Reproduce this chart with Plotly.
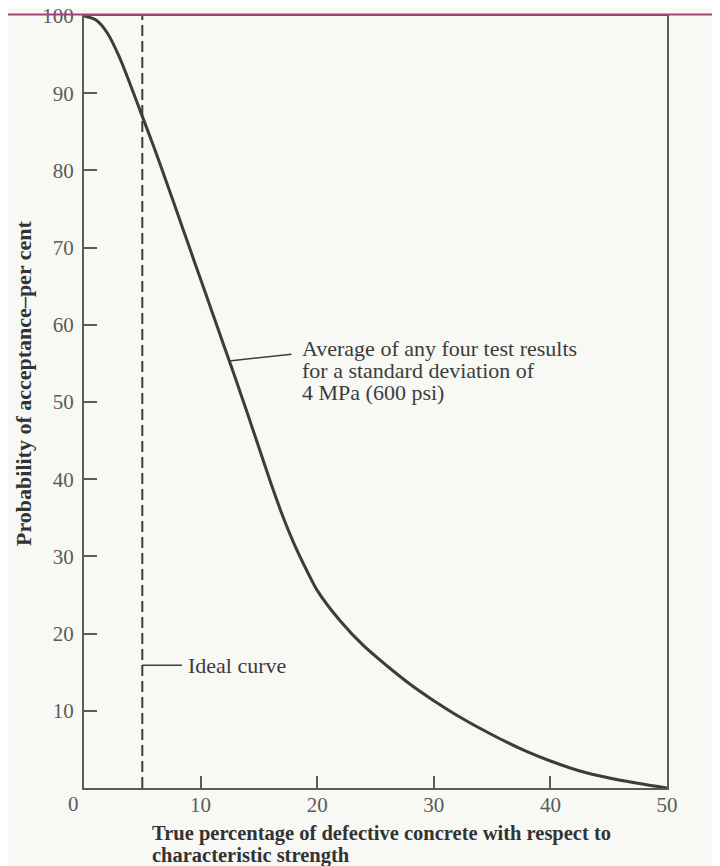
import plotly.graph_objects as go

# Data
defective_pct = [0, 1, 2, 3, 4, 5, 6, 7, 8, 9, 10, 11, 12, 13, 14, 15, 16, 17, 18, 19, 20,
                 22, 24, 26, 28, 30, 32, 35, 38, 40, 43, 46, 50]
acceptance_prob = [100, 99.5, 97.8, 94.8, 91.0, 87.0, 83.0, 78.8, 74.5, 70.2, 65.9, 61.6, 57.3,
                   53.0, 48.6, 44.1, 39.6, 35.4, 31.7, 28.5, 25.6, 21.6, 18.4, 15.8, 13.4, 11.3,
                   9.4, 6.9, 4.7, 3.5, 2.0, 1.0, 0]
ideal_x = [5, 5]
ideal_y = [0, 100]
x_ticks = [10, 20, 30, 40, 50]
y_ticks = [10, 20, 30, 40, 50, 60, 70, 80, 90, 100]
curve_label = ["Average of any four test results", "for a standard deviation of", "4 MPa (600 psi)"]
x_title = ["True percentage of defective concrete with respect to", "characteristic strength"]

SERIF = "Liberation Serif, Times New Roman, serif"
INK = "#3c3c3c"
AXIS = "#5a5a5a"
BG = "#f8f8f5"

# page body has an 8px margin: figure origin sits at (8, 8) in the window
L, T, R, B = 76, 8, 53, 78
PW = 712 - L - R   # plot width in px
PH = 858 - T - B   # plot height in px

fig = go.Figure()
fig.add_trace(go.Scatter(x=ideal_x, y=ideal_y, mode="lines",
                         line=dict(color=INK, width=2, dash="11px,5px"),
                         hoverinfo="skip", showlegend=False))
fig.add_trace(go.Scatter(x=defective_pct, y=acceptance_prob, mode="lines",
                         line=dict(color=INK, width=3, shape="spline", smoothing=0.8),
                         showlegend=False))

# annotation leader lines
fig.add_shape(type="line", x0=12.45, y0=55.3, x1=17.8, y1=56.2, xref="x", yref="y",
              line=dict(color=INK, width=1.5))
fig.add_shape(type="line", x0=5, y0=15.9, x1=8.4, y1=15.9, xref="x", yref="y",
              line=dict(color=INK, width=1.5))
# page rule across the top
fig.add_shape(type="line", x0=-L / PW, x1=(712 - L) / PW, y0=1.002, y1=1.002,
              xref="paper", yref="paper", line=dict(color="#a8407a", width=2))

for i, line in enumerate(curve_label):
    fig.add_annotation(x=18.5, y=56.9, xref="x", yref="y", xanchor="left", yanchor="middle",
                       yshift=-22 * i, text=line, showarrow=False, align="left",
                       font=dict(family=SERIF, size=22, color=INK))
fig.add_annotation(x=8.75, y=15.9, xref="x", yref="y", xanchor="left", yanchor="middle",
                   text="Ideal curve", showarrow=False,
                   font=dict(family=SERIF, size=22, color=INK))
fig.add_annotation(x=0, y=0, xref="x", yref="paper", xanchor="right", yanchor="top",
                   xshift=-3, yshift=-2, text="0", showarrow=False,
                   font=dict(family=SERIF, size=21, color=AXIS))
for i, line in enumerate(x_title):
    fig.add_annotation(x=(150 - 84) / PW, y=0, xref="paper", yref="paper",
                       xanchor="left", yanchor="middle", yshift=-45 - 22 * i, align="left",
                       text="<b>" + line + "</b>", showarrow=False,
                       font=dict(family=SERIF, size=20.5, color="#333333"))
fig.add_annotation(x=(23 - 84) / PW, y=(788 - 383) / PH, xref="paper", yref="paper",
                   xanchor="center", yanchor="middle", textangle=-90,
                   text="<b>Probability of acceptance\u2013per cent</b>",
                   showarrow=False, font=dict(family=SERIF, size=22, color="#333333"))

fig.update_xaxes(range=[0, 50], tickvals=x_ticks, ticktext=[str(v) for v in x_ticks],
                 ticks="inside", ticklen=12, tickwidth=1.5, tickcolor=AXIS,
                 showline=True, linecolor=AXIS, linewidth=2, mirror=True,
                 showgrid=False, zeroline=False, automargin=False,
                 ticklabeloverflow="allow", ticklabelstandoff=-3,
                 tickfont=dict(family=SERIF, size=21, color=AXIS))
fig.update_yaxes(range=[0, 100], tickvals=y_ticks, ticktext=[str(v) for v in y_ticks],
                 ticks="inside", ticklen=13, tickwidth=1.5, tickcolor=AXIS,
                 showline=True, linecolor=AXIS, linewidth=2, mirror=True,
                 showgrid=False, zeroline=False, ticklabelstandoff=4, automargin=False,
                 ticklabeloverflow="allow",
                 tickfont=dict(family=SERIF, size=21, color=AXIS))
fig.update_layout(width=712, height=858,
                  margin=dict(l=L, r=R, t=T, b=B),
                  paper_bgcolor=BG, plot_bgcolor=BG)

fig.write_html("out.html")
